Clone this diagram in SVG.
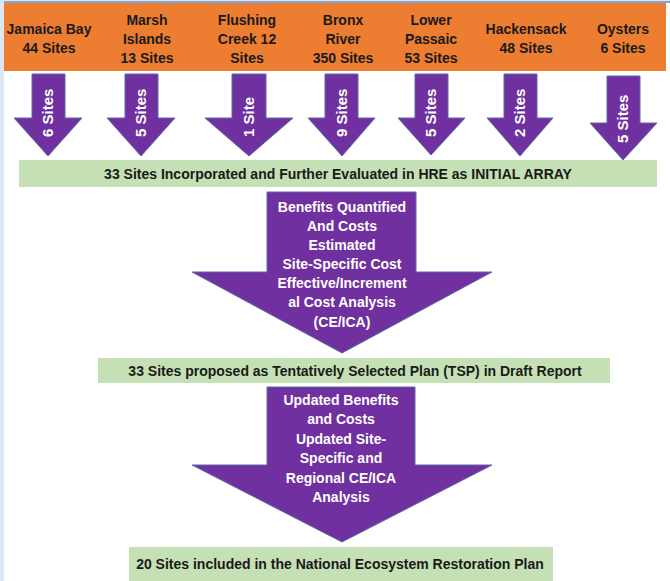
<svg xmlns="http://www.w3.org/2000/svg" width="670" height="581" viewBox="0 0 670 581">
<style>
.bg{fill:#ffffff}
.frame{fill:#dde8f4}
.topline{fill:#7ea6d6}
.band{fill:#ed7d31}
.bar{fill:#c5e0b4}
.arrow{fill:#7030a0;stroke:#5a6aa8;stroke-width:1}
.src{font-family:"Liberation Sans",Arial,sans-serif;font-weight:bold;font-size:14px;fill:#1a1a1a;text-anchor:middle}
.lbl{font-family:"Liberation Sans",Arial,sans-serif;font-weight:bold;font-size:15px;fill:#ffffff}
.big{font-family:"Liberation Sans",Arial,sans-serif;font-weight:bold;font-size:14px;fill:#ffffff;text-anchor:middle}
.bartxt{font-family:"Liberation Sans",Arial,sans-serif;font-weight:bold;font-size:14px;fill:#1a1a1a;text-anchor:middle}
</style>
<rect class="bg" x="0" y="0" width="670" height="581"/>
<rect class="frame" x="0" y="0" width="4" height="581"/>
<rect class="frame" x="0" y="0" width="670" height="3"/>
<rect class="topline" x="4" y="1" width="666" height="2"/>

<g id="sources">
  <rect class="band" x="4" y="3" width="662" height="68"/>
  <g id="jamaica-bay"><text class="src" x="49" y="34">Jamaica Bay</text><text class="src" x="49" y="53">44 Sites</text></g>
  <g id="marsh-islands"><text class="src" x="147" y="25">Marsh</text><text class="src" x="147" y="44">Islands</text><text class="src" x="147" y="63">13 Sites</text></g>
  <g id="flushing-creek"><text class="src" x="247" y="25">Flushing</text><text class="src" x="247" y="44">Creek 12</text><text class="src" x="247" y="63">Sites</text></g>
  <g id="bronx-river"><text class="src" x="343" y="25">Bronx</text><text class="src" x="343" y="44">River</text><text class="src" x="343" y="63">350 Sites</text></g>
  <g id="lower-passaic"><text class="src" x="431" y="25">Lower</text><text class="src" x="431" y="44">Passaic</text><text class="src" x="431" y="63">53 Sites</text></g>
  <g id="hackensack"><text class="src" x="526" y="34">Hackensack</text><text class="src" x="526" y="53">48 Sites</text></g>
  <g id="oysters"><text class="src" x="623" y="34">Oysters</text><text class="src" x="623" y="53">6 Sites</text></g>
</g>

<g id="connectors">
  <g id="arrow-jamaica"><path class="arrow" d="M32,74 H65 V118 H82 L48,156 L14,118 H32 Z"/><text class="lbl" transform="translate(53,137) rotate(-90)">6 Sites</text></g>
  <g id="arrow-marsh"><path class="arrow" d="M125,74 H158 V118 H175 L141,156 L107,118 H125 Z"/><text class="lbl" transform="translate(146,137) rotate(-90)">5 Sites</text></g>
  <g id="arrow-flushing"><path class="arrow" d="M232,74 H266 V118 H293 L249,156 L205,118 H232 Z"/><text class="lbl" transform="translate(254,137) rotate(-90)">1 Site</text></g>
  <g id="arrow-bronx"><path class="arrow" d="M325,74 H358 V118 H375 L342,156 L308,118 H325 Z"/><text class="lbl" transform="translate(347,137) rotate(-90)">9 Sites</text></g>
  <g id="arrow-passaic"><path class="arrow" d="M415,74 H448 V118 H465 L431,155 L398,118 H415 Z"/><text class="lbl" transform="translate(436,137) rotate(-90)">5 Sites</text></g>
  <g id="arrow-hackensack"><path class="arrow" d="M504,74 H537 V118 H553 L520,156 L487,118 H504 Z"/><text class="lbl" transform="translate(525,137) rotate(-90)">2 Sites</text></g>
  <g id="arrow-oysters"><path class="arrow" d="M607,76 H640 V123 H657 L623,160 L590,123 H607 Z"/><text class="lbl" transform="translate(628,143) rotate(-90)">5 Sites</text></g>
</g>

<g id="initial-array">
  <rect class="bar" x="19" y="160" width="638" height="27"/>
  <text class="bartxt" x="338" y="179">33 Sites Incorporated and Further Evaluated in HRE as INITIAL ARRAY</text>
</g>

<g id="evaluation-arrow">
  <path class="arrow" d="M267,192 H416 V272 H492 L342,353 L192,272 H267 Z"/>
  <text class="big" x="342" y="212">Benefits Quantified</text>
  <text class="big" x="342" y="231">And Costs</text>
  <text class="big" x="342" y="250">Estimated</text>
  <text class="big" x="342" y="269">Site-Specific Cost</text>
  <text class="big" x="342" y="288">Effective/Increment</text>
  <text class="big" x="342" y="307">al Cost Analysis</text>
  <text class="big" x="342" y="327">(CE/ICA)</text>
</g>

<g id="tsp">
  <rect class="bar" x="98" y="358" width="512" height="25"/>
  <text class="bartxt" x="355" y="376">33 Sites proposed as Tentatively Selected Plan (TSP) in Draft Report</text>
</g>

<g id="update-arrow">
  <path class="arrow" d="M267,387 H415 V465 H492 L342,542 L192,465 H267 Z"/>
  <text class="big" x="341" y="405">Updated Benefits</text>
  <text class="big" x="341" y="424">and Costs</text>
  <text class="big" x="341" y="444">Updated Site-</text>
  <text class="big" x="341" y="463">Specific and</text>
  <text class="big" x="341" y="483">Regional CE/ICA</text>
  <text class="big" x="341" y="502">Analysis</text>
</g>

<g id="ner-plan">
  <rect class="bar" x="129" y="547" width="424" height="34"/>
  <text class="bartxt" x="340" y="569">20 Sites included in the National Ecosystem Restoration Plan</text>
</g>
</svg>
